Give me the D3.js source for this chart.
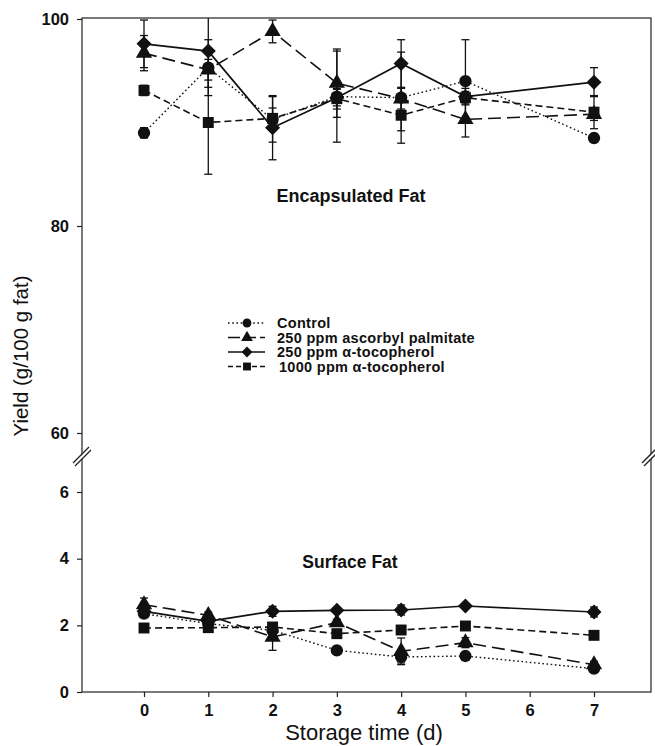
<!DOCTYPE html>
<html>
<head>
<meta charset="utf-8">
<script src="https://cdn.jsdelivr.net/npm/d3@7"></script>
<style>
    body { margin: 0; background: #fff; }
    svg { display: block; font-family: "Liberation Sans", Arial, sans-serif; }
    .tick text { fill: #111; }
</style>
</head>
<body>
<svg width="655" height="746"></svg>
<script>
// DATA ==============================================================
const days = [0, 1, 2, 3, 4, 5, 7];
const seriesNames = ['Control', '250 ppm ascorbyl palmitate', '250 ppm \u03b1-tocopherol', '1000 ppm \u03b1-tocopherol'];

// encapsulated fat (g/100 g fat)
const controlEnc = [89.0, 95.3, 90.3, 92.5, 92.4, 94.0, 88.5];
const controlEncErr = [0.5, 2.7, 2.2, 4.4, 4.4, 4.0, 0.4];
const ascorbylEnc = [96.7, 95.1, 98.8, 93.8, 92.3, 90.3, 90.8];
const ascorbylEncErr = [1.7, 1.0, 1.1, 3.3, 1.0, 1.7, 0.6];
const toco250Enc = [97.6, 96.9, 89.5, 92.4, 95.7, 92.5, 93.9];
const toco250EncErr = [2.3, 3.5, 3.1, 0.8, 2.3, 0.8, 1.4];
const toco1000Enc = [93.1, 90.0, 90.4, 92.3, 90.7, 92.4, 91.0];
const toco1000EncErr = [0.5, 5.0, 1.0, 1.0, 1.5, 0.6, 1.6];

// surface fat (g/100 g fat)
const controlSurf = [2.35, 2.05, 1.85, 1.25, 1.05, 1.08, 0.7];
const controlSurfErr = [0.1, 0.1, 0.1, 0.05, 0.18, 0.1, 0.1];
const ascorbylSurf = [2.62, 2.3, 1.65, 2.08, 1.22, 1.48, 0.82];
const ascorbylSurfErr = [0.2, 0.1, 0.4, 0.1, 0.4, 0.15, 0.1];
const toco250Surf = [2.42, 2.12, 2.42, 2.45, 2.46, 2.58, 2.4];
const toco250SurfErr = [0.1, 0.05, 0.15, 0.05, 0.15, 0.05, 0.15];
const toco1000Surf = [1.92, 1.93, 1.95, 1.75, 1.86, 1.98, 1.7];
const toco1000SurfErr = [0.05, 0.05, 0.1, 0.05, 0.05, 0.05, 0.05];

const xTicks = [0, 1, 2, 3, 4, 5, 6, 7];
const topTicks = [60, 80, 100];
const bottomTicks = [0, 2, 4, 6];

// LAYOUT ============================================================
const FRAME_LEFT = 82, FRAME_RIGHT = 651, FRAME_TOP = 18, FRAME_BOTTOM = 692,
    BREAK_Y = 456;

const svg = d3.select('svg');

const x = d3.scaleLinear().domain([0, 7]).range([144, 594]);
const yTop = d3.scaleLinear().domain([60, 100]).range([433, 19]);
const yBottom = d3.scaleLinear().domain([0, 6]).range([692, 492]);

const styles = [
    { dash: '1.6,2.6', width: 1.4, symbol: 'circle' },
    { dash: '13,6', width: 1.6, symbol: 'triangle' },
    { dash: null, width: 1.7, symbol: 'diamond' },
    { dash: '7,4', width: 1.6, symbol: 'square' }
];

const encSeries = [
    [controlEnc, controlEncErr], [ascorbylEnc, ascorbylEncErr],
    [toco250Enc, toco250EncErr], [toco1000Enc, toco1000EncErr]
];
const surfSeries = [
    [controlSurf, controlSurfErr], [ascorbylSurf, ascorbylSurfErr],
    [toco250Surf, toco250SurfErr], [toco1000Surf, toco1000SurfErr]
];

svg.append('clipPath').attr('id', 'clip')
    .append('rect')
    .attr('x', FRAME_LEFT).attr('y', FRAME_TOP)
    .attr('width', FRAME_RIGHT - FRAME_LEFT).attr('height', FRAME_BOTTOM - FRAME_TOP);

function symbolPath(type) {
    if (type === 'circle') return d3.symbol(d3.symbolCircle, 120)();
    if (type === 'triangle') return d3.symbol(d3.symbolTriangle, 115)();
    if (type === 'square') return d3.symbol(d3.symbolSquare, 120)();
    // diamond: rotated square
    return 'M0,-7.5L7.5,0L0,7.5L-7.5,0Z';
}

function drawPanel(series, yScale) {
    let g = svg.append('g').attr('clip-path', 'url(#clip)');

    // lines
    series.forEach(([vals], i) => {
        let line = d3.line()
            .x((d, j) => x(days[j]))
            .y(d => yScale(d));
        g.append('path')
            .datum(vals)
            .attr('d', line)
            .attr('fill', 'none')
            .attr('stroke', '#111')
            .attr('stroke-width', styles[i].width)
            .attr('stroke-dasharray', styles[i].dash);
    });

    // error bars
    series.forEach(([vals, errs]) => {
        vals.forEach((v, j) => {
            let cx = x(days[j]),
                top = yScale(v + errs[j]),
                bot = yScale(v - errs[j]);
            g.append('line')
                .attr('x1', cx).attr('x2', cx)
                .attr('y1', top).attr('y2', bot)
                .attr('stroke', '#111').attr('stroke-width', 1.3);
            [top, bot].forEach(yy => {
                g.append('line')
                    .attr('x1', cx - 4).attr('x2', cx + 4)
                    .attr('y1', yy).attr('y2', yy)
                    .attr('stroke', '#111').attr('stroke-width', 1.3);
            });
        });
    });

    // markers
    series.forEach(([vals], i) => {
        g.selectAll(null)
            .data(vals)
            .enter()
            .append('path')
            .attr('d', symbolPath(styles[i].symbol))
            .attr('transform', (d, j) => `translate(${x(days[j])},${yScale(d)})`)
            .attr('fill', '#111');
    });
}

drawPanel(encSeries, yTop);
drawPanel(surfSeries, yBottom);

// FRAME & AXES ======================================================
svg.append('rect')
    .attr('x', FRAME_LEFT).attr('y', FRAME_TOP)
    .attr('width', FRAME_RIGHT - FRAME_LEFT).attr('height', FRAME_BOTTOM - FRAME_TOP)
    .attr('fill', 'none').attr('stroke', '#222').attr('stroke-width', 1.2);

function styleAxis(g) {
    g.select('.domain').remove();
    g.selectAll('.tick line').attr('stroke', '#222').attr('stroke-width', 1.2);
    g.selectAll('.tick text')
        .attr('font-size', 16.5)
        .attr('font-weight', 600)
        .attr('font-family', '"Liberation Sans", Arial, sans-serif');
}

svg.append('g')
    .attr('transform', `translate(${FRAME_LEFT},0)`)
    .call(d3.axisLeft(yTop).tickValues(topTicks).tickFormat(d3.format('d')).tickSize(5).tickPadding(8))
    .call(styleAxis);

svg.append('g')
    .attr('transform', `translate(${FRAME_LEFT},0)`)
    .call(d3.axisLeft(yBottom).tickValues(bottomTicks).tickFormat(d3.format('d')).tickSize(5).tickPadding(8))
    .call(styleAxis);

svg.append('g')
    .attr('transform', `translate(0,${FRAME_BOTTOM})`)
    .call(d3.axisBottom(x).tickValues(xTicks).tickFormat(d3.format('d')).tickSize(5).tickPadding(7))
    .call(styleAxis);

// axis breaks
[FRAME_LEFT, FRAME_RIGHT].forEach(bx => {
    let b = svg.append('g').attr('transform', `translate(${bx},${BREAK_Y})`);
    b.append('polygon')
        .attr('points', '-9,8 7,-8 9,-6 -7,10')
        .attr('fill', '#fff');
    b.append('line').attr('x1', -9).attr('y1', 7).attr('x2', 7).attr('y2', -9)
        .attr('stroke', '#222').attr('stroke-width', 1.3);
    b.append('line').attr('x1', -7).attr('y1', 10).attr('x2', 9).attr('y2', -6)
        .attr('stroke', '#222').attr('stroke-width', 1.3);
});

// TITLES ============================================================
svg.append('text')
    .attr('x', 364).attr('y', 740)
    .attr('text-anchor', 'middle')
    .attr('font-size', 22)
    .attr('fill', '#111')
    .text('Storage time (d)');

svg.append('text')
    .attr('transform', 'translate(28,356) rotate(-90)')
    .attr('text-anchor', 'middle')
    .attr('font-size', 20.5)
    .attr('fill', '#111')
    .text('Yield (g/100 g fat)');

svg.append('text')
    .attr('x', 351).attr('y', 202)
    .attr('text-anchor', 'middle')
    .attr('font-size', 18)
    .attr('font-weight', 600)
    .attr('fill', '#111')
    .text('Encapsulated Fat');

svg.append('text')
    .attr('x', 350).attr('y', 568)
    .attr('text-anchor', 'middle')
    .attr('font-size', 17.5)
    .attr('font-weight', 600)
    .attr('fill', '#111')
    .text('Surface Fat');

// LEGEND ============================================================
let legend = svg.append('g').attr('transform', 'translate(247,323)');
seriesNames.forEach((name, i) => {
    let row = legend.append('g').attr('transform', `translate(0,${i * 14.5})`);
    row.append('line')
        .attr('x1', -19).attr('x2', 18)
        .attr('stroke', '#111')
        .attr('stroke-width', styles[i].width)
        .attr('stroke-dasharray', i === 1 ? '12,4' : (i === 3 ? '5,3' : styles[i].dash));
    row.append('path')
        .attr('d', symbolPath(styles[i].symbol))
        .attr('transform', 'scale(0.72)')
        .attr('fill', '#111');
    row.append('text')
        .attr('x', i === 3 ? 32 : 30).attr('y', 5)
        .attr('font-size', 14.5)
        .attr('font-weight', 600)
        .attr('letter-spacing', 0.3)
        .attr('fill', '#111')
        .text(name);
});
</script>
</body>
</html>
